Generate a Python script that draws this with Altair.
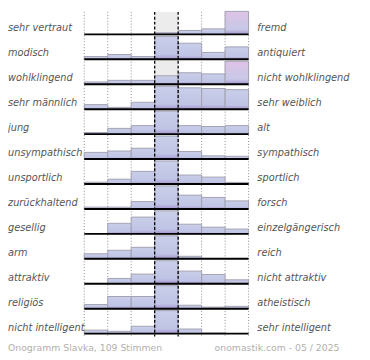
import altair as alt
import pandas as pd

# ---------------- data ----------------
left_labels = ["sehr vertraut", "modisch", "wohlklingend", "sehr männlich", " jung",
               "unsympathisch", "unsportlich", "zurückhaltend", "gesellig", "arm",
               "attraktiv", "religiös", "nicht intelligent"]
right_labels = ["fremd", "antiquiert", "nicht wohlklingend", "sehr weiblich", "alt",
                "sympathisch", "sportlich", "forsch", "einzelgängerisch", "reich",
                "nicht attraktiv", "atheistisch", "sehr intelligent"]
# relative bar heights per row (percent of the row's maximum), 7 bins each
values = [
    [0, 0, 0, 7, 17, 24, 100],
    [12, 21, 12, 100, 70, 30, 54],
    [10, 17, 17, 37, 50, 45, 100],
    [20, 8, 30, 100, 93, 90, 85],
    [7, 25, 37, 100, 37, 33, 37],
    [29, 35, 47, 100, 33, 14, 12],
    [8, 21, 55, 100, 39, 30, 7],
    [8, 8, 32, 100, 60, 50, 35],
    [0, 46, 73, 100, 42, 29, 21],
    [22, 37, 50, 100, 11, 0, 0],
    [0, 23, 42, 100, 55, 40, 17],
    [18, 53, 53, 100, 15, 7, 10],
    [15, 10, 32, 100, 20, 3, 0],
]
pink_cells = [(0, 6), (2, 6)]
footer_left = "Onogramm Slavka, 109 Stimmen"
footer_right = "onomastik.com - 05 / 2025"

# ---------------- layout helpers ----------------
W, H = 362, 352
COLW = 24.0          # px per column
X0PX = 78.0          # chart px of column 0 edge
ROWH = 25.5          # px per row
B0PX = 23.0          # chart px of first baseline
HMAX = 23.5 / ROWH   # full bar height in row units

XL = -X0PX / COLW
XR = (W - X0PX) / COLW
YT = 1 - B0PX / ROWH
YB = YT + H / ROWH
NROWS = len(values)

xs = alt.Scale(domain=[XL, XR], nice=False, zero=False)
ys = alt.Scale(domain=[YT, YB], nice=False, zero=False, reverse=True)

bars = []
for i, row in enumerate(values):
    for j, v in enumerate(row):
        if v > 0:
            bars.append(dict(x=j, x2=j + 1, y=i + 1, y2=i + 1 - v / 100 * HMAX,
                             pink=int((i, j) in pink_cells)))
bars = pd.DataFrame(bars)

labels = pd.DataFrame(dict(left=left_labels, right=right_labels,
                           xl=[XL] * NROWS, xr=[(255 - X0PX) / COLW] * NROWS,
                           y=[i + 1 - 0.24 for i in range(NROWS)]))
baselines = pd.DataFrame(dict(x=[0] * NROWS, x2=[7] * NROWS, y=[i + 1 for i in range(NROWS)]))

dotted = pd.DataFrame(dict(x=[0, 1, 2, 5, 6, 7], y=[YT] * 6, y2=[NROWS + 0.12] * 6))
dashed = pd.DataFrame(dict(x=[3, 4], y=[YT] * 2, y2=[NROWS + 0.12] * 2))
midbg = pd.DataFrame(dict(x=[3], x2=[4], y=[YT], y2=[NROWS]))


def grad(top, mid, bot):
    return alt.LinearGradient(
        gradient="linear",
        stops=[alt.GradientStop(color=top, offset=0),
               alt.GradientStop(color=mid, offset=0.78),
               alt.GradientStop(color=bot, offset=1)],
        x1=0, x2=0, y1=0, y2=1)


blue = grad("#c9cee9", "#c0c4e5", "#a696cf")
pink = grad("#dec3e6", "#c8c8e8", "#a696cf")

bg = alt.Chart(midbg).mark_rect(color="#ececec").encode(
    x=alt.X("x:Q", scale=xs, axis=None), x2="x2:Q",
    y=alt.Y("y:Q", scale=ys, axis=None), y2="y2:Q")

grid_dot = alt.Chart(dotted).mark_rule(color="#8a8a8a", strokeWidth=1, strokeDash=[1, 2]).encode(
    x=alt.X("x:Q", scale=xs, axis=None),
    y=alt.Y("y:Q", scale=ys, axis=None), y2="y2:Q")

bar_blue = alt.Chart(bars[bars.pink == 0]).mark_rect(fill=blue, stroke="#a2a2b2", strokeWidth=1).encode(
    x=alt.X("x:Q", scale=xs, axis=None), x2="x2:Q",
    y=alt.Y("y:Q", scale=ys, axis=None), y2="y2:Q")

bar_pink = alt.Chart(bars[bars.pink == 1]).mark_rect(fill=pink, stroke="#a2a2b2", strokeWidth=1).encode(
    x=alt.X("x:Q", scale=xs, axis=None), x2="x2:Q",
    y=alt.Y("y:Q", scale=ys, axis=None), y2="y2:Q")

grid_dash = alt.Chart(dashed).mark_rule(color="#000000", strokeWidth=1.3, strokeDash=[3, 2]).encode(
    x=alt.X("x:Q", scale=xs, axis=None),
    y=alt.Y("y:Q", scale=ys, axis=None), y2="y2:Q")

base = alt.Chart(baselines).mark_rule(color="#000000", strokeWidth=2).encode(
    x=alt.X("x:Q", scale=xs, axis=None), x2="x2:Q",
    y=alt.Y("y:Q", scale=ys, axis=None))

txt_style = dict(baseline="middle", font="DejaVu Sans", fontSize=10,
                 fontStyle="italic", color="#555555")

left_txt = alt.Chart(labels).mark_text(align="left", **txt_style).encode(
    x=alt.X("xl:Q", scale=xs, axis=None), y=alt.Y("y:Q", scale=ys, axis=None), text="left:N")

right_txt = alt.Chart(labels).mark_text(align="left", **txt_style).encode(
    x=alt.X("xr:Q", scale=xs, axis=None), y=alt.Y("y:Q", scale=ys, axis=None), text="right:N")

foot = pd.DataFrame(dict(text=[footer_left, footer_right],
                         x=[XL, (339 - X0PX) / COLW],
                         y=[YT + 344 / ROWH] * 2))

foot_l = alt.Chart(foot.iloc[[0]]).mark_text(
    align="left", baseline="middle", font="DejaVu Sans", fontSize=9.5, color="#b0b0b0").encode(
    x=alt.X("x:Q", scale=xs, axis=None), y=alt.Y("y:Q", scale=ys, axis=None), text="text:N")
foot_r = alt.Chart(foot.iloc[[1]]).mark_text(
    align="right", baseline="middle", font="DejaVu Sans", fontSize=9.5, color="#b0b0b0").encode(
    x=alt.X("x:Q", scale=xs, axis=None), y=alt.Y("y:Q", scale=ys, axis=None), text="text:N")

chart = alt.layer(bg, grid_dot, bar_blue, bar_pink, grid_dash, base,
                  left_txt, right_txt, foot_l, foot_r).properties(
    width=W, height=H, autosize=alt.AutoSizeParams(type="none"), padding=0,
    background="#ffffff"
).configure_view(stroke=None)

chart.save("out.html", embed_options={"renderer": "svg", "actions": False})
